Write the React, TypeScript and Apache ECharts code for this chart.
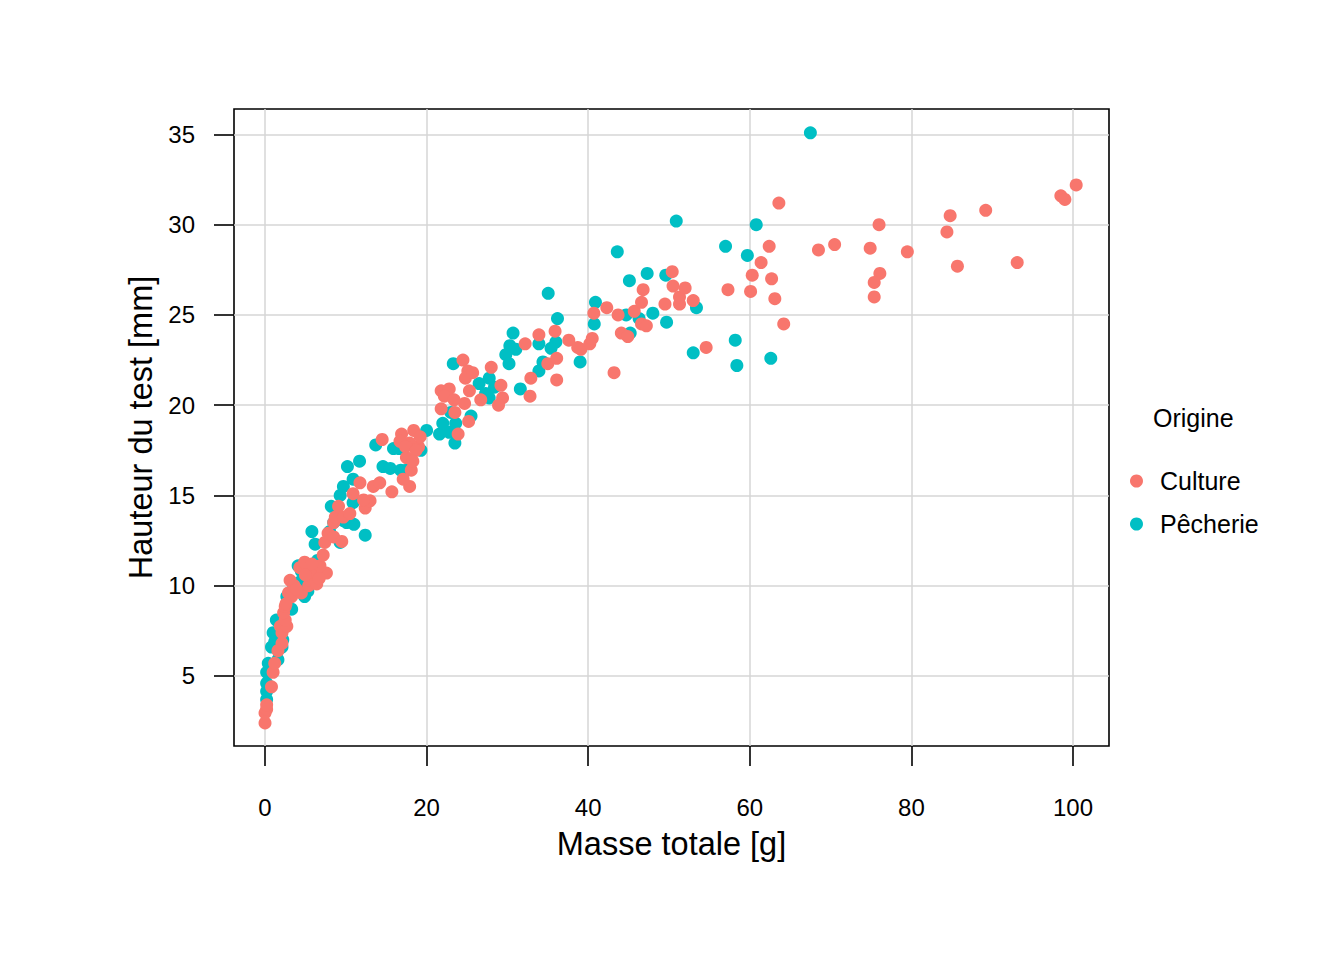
import React, { useEffect, useRef } from "react";
import * as echarts from "echarts";

const xTicks = [0, 20, 40, 60, 80, 100];
const yTicks = [5, 10, 15, 20, 25, 30, 35];

const seriesNames = ["Culture", "Pêcherie"];
const seriesColors = ["#F8766D", "#00BFC4"];

// [Masse totale (g), Hauteur du test (mm)]
const cultureData: number[][] = [
  [0.0, 2.4], [0.0, 2.95], [0.2, 3.15], [0.2, 3.4], [0.8, 4.4], [1.0, 5.2], [1.2, 5.7], [1.6, 6.4],
  [2.1, 6.8], [2.1, 7.4], [1.9, 7.75], [2.7, 7.75], [2.5, 8.1], [2.3, 8.5], [2.5, 8.85], [2.9, 9.6],
  [3.3, 9.4], [3.1, 10.3], [4.5, 9.6], [5.4, 10.0], [5.6, 10.3], [6.4, 10.1], [6.2, 10.7], [7.6, 10.7],
  [4.3, 11.0], [4.9, 10.9], [4.9, 11.3], [6.8, 11.1], [7.2, 11.7], [7.4, 12.4], [7.8, 12.9], [8.5, 12.7],
  [8.5, 13.5], [8.7, 13.8], [9.5, 12.45], [9.1, 14.4], [9.7, 13.8], [10.5, 14.0], [10.9, 15.1], [11.75, 15.7],
  [12.4, 14.3], [13.0, 14.7], [12.2, 14.75], [13.4, 15.5], [14.2, 15.7], [15.7, 15.2], [14.5, 18.1], [16.9, 18.4],
  [18.4, 18.6], [17.9, 17.9], [19.0, 17.7], [18.1, 16.4], [17.9, 15.5], [16.7, 18.0], [17.1, 15.9], [17.5, 17.1],
  [19.2, 18.25], [17.4, 17.7], [18.7, 17.5], [18.3, 16.9],
  [3.6, 10.0], [5.0, 10.6], [5.8, 11.2], [6.7, 10.4], [3.9, 9.8], [2.6, 9.0],
  [21.8, 20.8], [22.8, 20.9], [22.2, 20.5], [21.8, 19.8], [23.4, 20.3], [24.7, 20.1], [23.5, 19.6], [25.2, 19.1],
  [23.9, 18.4], [24.5, 22.5], [25.1, 21.9], [24.8, 21.5], [25.7, 21.8], [25.3, 20.8], [26.7, 20.3], [28.0, 22.1],
  [29.2, 21.1], [29.4, 20.4], [28.9, 20.0], [32.9, 21.5], [32.8, 20.5], [36.1, 21.4], [35.0, 22.3], [36.1, 22.6],
  [32.2, 23.4], [33.9, 23.9], [35.9, 24.1], [37.6, 23.6], [38.7, 23.2], [39.1, 23.1],
  [40.2, 23.4], [40.5, 23.7], [43.2, 21.8], [44.1, 24.0], [44.9, 23.8], [46.6, 24.5], [47.2, 24.4], [40.7, 25.1],
  [43.7, 25.0], [42.3, 25.4], [45.7, 25.2], [46.6, 25.7], [46.8, 26.4], [49.5, 25.6], [51.3, 25.6], [51.3, 26.0],
  [53.0, 25.8], [52.0, 26.5], [50.5, 26.6], [50.4, 27.4], [54.6, 23.2], [57.3, 26.4], [60.1, 26.3], [60.3, 27.2],
  [61.4, 27.9], [62.4, 28.8], [62.7, 27.0], [63.1, 25.9], [64.2, 24.5], [63.6, 31.2], [68.5, 28.6], [70.5, 28.9],
  [74.9, 28.7], [76.0, 30.0], [76.1, 27.3], [75.4, 26.8], [75.4, 26.0], [79.5, 28.5], [84.4, 29.6], [84.8, 30.5],
  [85.7, 27.7], [89.2, 30.8], [93.1, 27.9], [98.5, 31.6], [99.0, 31.4], [100.4, 32.2],
];

const pecherieData: number[][] = [
  [0.2, 3.7], [0.2, 4.15], [0.2, 4.6], [0.2, 5.2], [0.4, 5.7], [1.6, 5.9], [0.8, 6.6], [2.1, 6.6],
  [1.0, 7.4], [1.4, 8.1], [3.3, 8.7], [2.7, 9.4], [3.5, 10.1], [4.3, 10.2], [4.9, 10.3], [4.9, 9.4],
  [4.1, 11.1], [6.2, 12.3], [5.8, 13.0], [8.0, 13.0], [8.5, 13.5], [9.7, 13.6], [9.3, 12.4], [10.1, 13.5],
  [11.0, 13.4], [12.4, 12.8], [10.9, 14.6], [8.2, 14.4], [9.3, 15.0], [9.7, 15.5], [10.9, 15.9], [10.2, 16.6],
  [11.7, 16.9], [13.7, 17.8], [14.6, 16.6], [15.5, 16.5], [17.5, 16.4], [15.9, 17.6], [16.8, 16.4], [16.6, 17.6],
  [4.5, 10.8], [5.3, 9.7], [6.5, 11.4], [2.2, 7.0], [1.2, 6.9],
  [20.0, 18.6], [19.3, 17.5], [21.6, 18.4], [22.8, 18.5], [23.5, 17.9], [22.0, 19.0], [23.0, 19.6], [25.5, 19.4],
  [23.6, 19.0], [23.3, 22.3], [26.5, 21.2], [27.75, 21.5], [28.4, 21.0], [27.3, 20.65], [27.75, 20.4], [31.6, 20.9],
  [30.7, 24.0], [30.3, 23.3], [31.05, 23.1], [29.8, 22.8], [30.2, 22.3], [33.9, 23.4], [36.0, 23.5], [35.4, 23.15],
  [34.4, 22.4], [33.9, 21.9], [39.0, 22.4], [35.05, 26.2], [36.2, 24.8],
  [40.9, 25.7], [40.75, 24.5], [43.6, 28.5], [45.1, 26.9], [47.3, 27.3], [49.6, 27.2], [44.7, 25.0], [46.3, 24.8],
  [48.0, 25.1], [49.7, 24.6], [53.4, 25.4], [45.2, 24.0], [53.0, 22.9], [58.2, 23.6], [58.4, 22.2], [62.6, 22.6],
  [50.9, 30.2], [60.8, 30.0], [57.0, 28.8], [59.7, 28.3], [67.5, 35.09],
];

const FONT = "'Liberation Sans', Arial, Helvetica, sans-serif";

export default function App() {
  const ref = useRef<HTMLDivElement>(null);
  useEffect(() => {
    if (!ref.current) return;
    const chart = echarts.init(ref.current, undefined, { renderer: "svg" });
    const option: any = {
      animation: false,
      backgroundColor: "#ffffff",
      textStyle: { fontFamily: FONT, color: "#000" },
      grid: {
        left: 234,
        top: 109,
        width: 875,
        height: 637,
        show: true,
        borderColor: "#000",
        borderWidth: 1.6,
        backgroundColor: "transparent",
      },
      xAxis: {
        type: "value",
        min: -3.84,
        max: 104.46,
        name: "Masse totale [g]",
        nameLocation: "middle",
        nameGap: 81,
        nameTextStyle: { fontSize: 32.5, color: "#000", fontFamily: FONT },
        axisLine: { show: false, onZero: false },
        axisTick: { show: true, length: 20, customValues: xTicks, lineStyle: { color: "#000", width: 1.6 } },
        axisLabel: { customValues: xTicks, margin: 49, fontSize: 24, color: "#000", fontFamily: FONT },
        splitLine: { show: true, lineStyle: { color: "#D6D6D6", width: 1.5 } },
      },
      yAxis: {
        type: "value",
        min: 1.12,
        max: 36.41,
        name: "Hauteur du test [mm]",
        nameLocation: "middle",
        nameGap: 77,
        nameTextStyle: { fontSize: 32.5, color: "#000", fontFamily: FONT },
        axisLine: { show: false, onZero: false },
        axisTick: { show: true, length: 20, customValues: yTicks, lineStyle: { color: "#000", width: 1.6 } },
        axisLabel: { customValues: yTicks, margin: 39, fontSize: 24, color: "#000", fontFamily: FONT },
        splitLine: { show: true, lineStyle: { color: "#D6D6D6", width: 1.5 } },
      },
      legend: {
        orient: "vertical",
        left: 1125,
        top: 463.5,
        itemWidth: 13,
        itemHeight: 13,
        itemGap: 18,
        icon: "circle",
        data: seriesNames,
        textStyle: { fontSize: 25, color: "#000", fontFamily: FONT, padding: [0, 0, 0, 12], lineHeight: 25 },
      },
      graphic: [
        {
          type: "text",
          left: 1153,
          top: 405,
          style: { text: "Origine", fontSize: 25, fill: "#000", fontFamily: FONT },
        },
      ],
      series: [
        {
          name: seriesNames[1],
          type: "scatter",
          data: pecherieData,
          symbolSize: 13,
          itemStyle: { color: seriesColors[1], opacity: 1 },
          z: 2,
        },
        {
          name: seriesNames[0],
          type: "scatter",
          data: cultureData,
          symbolSize: 13,
          itemStyle: { color: seriesColors[0], opacity: 1 },
          z: 3,
        },
      ],
    };
    chart.setOption(option);
    return () => chart.dispose();
  }, []);
  return (
    <div
      ref={ref}
      style={{ position: "absolute", left: 0, top: 0, width: 1344, height: 960 }}
    />
  );
}
